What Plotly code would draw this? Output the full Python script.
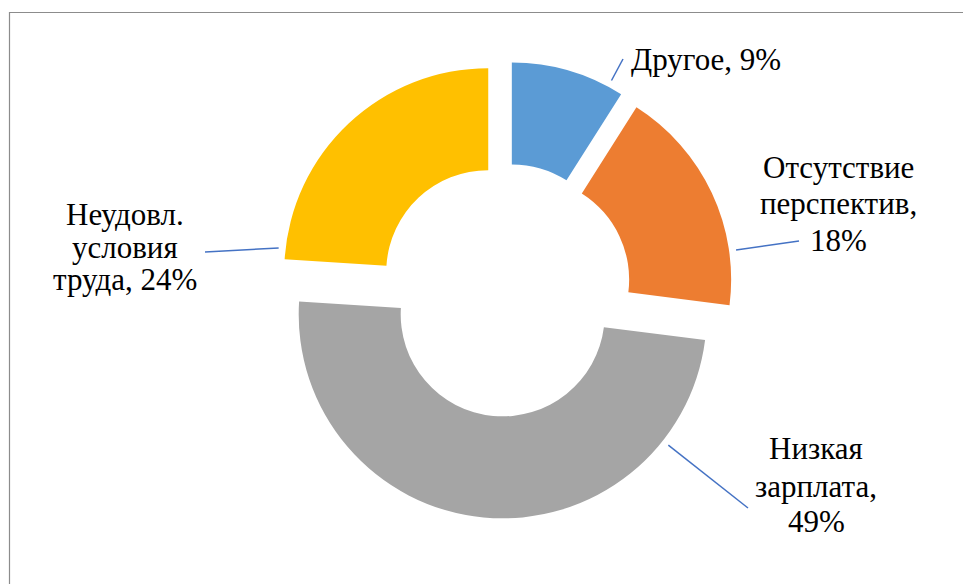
import math
import plotly.graph_objects as go

# Причины увольнения персонала
categories = ["Другое", "Отсутствие перспектив", "Низкая зарплата", "Неудовл. условия труда"]
values = [9, 18, 49, 24]
label_lines = [
    ["Другое, 9%"],
    ["Отсутствие", "перспектив,", "18%"],
    ["Низкая", "зарплата,", "49%"],
    ["Неудовл.", "условия", "труда, 24%"],
]
colors = ["#5B9BD5", "#ED7D31", "#A5A5A5", "#FFC000"]

W, H = 963, 584
CX, CY = 505.0, 290.0      # pie centre, px
R = 204.0                  # outer radius, px
PULL = 0.12
HOLE = 0.5
FONT = "'Liberation Serif', 'DejaVu Serif'"
FS = 31
LEADER = "#4472C4"

half = R * (1 + PULL)
domain_x = [(CX - half) / W, (CX + half) / W]
domain_y = [(H - CY - half) / H, (H - CY + half) / H]

fig = go.Figure(go.Pie(
    labels=categories,
    values=values,
    sort=False,
    direction="clockwise",
    rotation=0,
    hole=HOLE,
    pull=[PULL] * len(values),
    marker=dict(colors=colors, line=dict(width=0)),
    textinfo="none",
    hoverinfo="label+percent",
    showlegend=False,
    domain=dict(x=domain_x, y=domain_y),
))


def px_to_paper(x, y):
    return x / W, 1 - y / H


# text block layout: centre x, baselines of each line
label_layout = [
    dict(cx=706, baselines=[70]),
    dict(cx=838, baselines=[178, 214, 251]),
    dict(cx=816, baselines=[459, 497, 532]),
    dict(cx=125, baselines=[225, 258, 290]),
]
# leader line end next to each text block
leader_ends = [(623, 59), (799, 241), (748, 508), (205, 252)]

annotations = []
shapes = []
total = sum(values)
cum = 0.0
for i, v in enumerate(values):
    a0 = 360.0 * cum / total
    a1 = 360.0 * (cum + v) / total
    cum += v
    mid = math.radians((a0 + a1) / 2)
    d = R * PULL
    pcx = CX + d * math.sin(mid)
    pcy = CY - d * math.cos(mid)

    ex, ey = leader_ends[i]
    ang = math.degrees(math.atan2(ex - pcx, -(ey - pcy))) % 360
    margin = 3.0
    lo, hi = a0 + margin, a1 - margin
    if not (lo <= ang <= hi):
        # nearest slice border
        dlo = min(abs(ang - lo), 360 - abs(ang - lo))
        dhi = min(abs(ang - hi), 360 - abs(ang - hi))
        ang = lo if dlo < dhi else hi
    ar = math.radians(ang)
    sx = pcx + (R + 7) * math.sin(ar)
    sy = pcy - (R + 7) * math.cos(ar)
    x0, y0 = px_to_paper(sx, sy)
    x1, y1 = px_to_paper(ex, ey)
    shapes.append(dict(type="line", xref="paper", yref="paper",
                       x0=x0, y0=y0, x1=x1, y1=y1,
                       line=dict(color=LEADER, width=1.5)))

    lay = label_layout[i]
    for text, base in zip(label_lines[i], lay["baselines"]):
        ax, ay = px_to_paper(lay["cx"], base - 0.34 * FS)
        annotations.append(dict(
            text=text, x=ax, y=ay, xref="paper", yref="paper",
            xanchor="center", yanchor="middle", showarrow=False,
            font=dict(family=FONT, size=FS, color="#000000"),
        ))

# chart area frame
shapes.append(dict(type="rect", xref="paper", yref="paper",
                   x0=9.5 / W, y0=-0.05, x1=1.05, y1=1 - 12.5 / H,
                   line=dict(color="#8C8C8C", width=1.2),
                   fillcolor="rgba(0,0,0,0)", layer="above"))

fig.update_layout(
    width=W, height=H,
    margin=dict(l=0, r=0, t=0, b=0),
    paper_bgcolor="#FFFFFF",
    plot_bgcolor="#FFFFFF",
    font=dict(family=FONT),
    annotations=annotations,
    shapes=shapes,
)

fig.write_html("out.html")
